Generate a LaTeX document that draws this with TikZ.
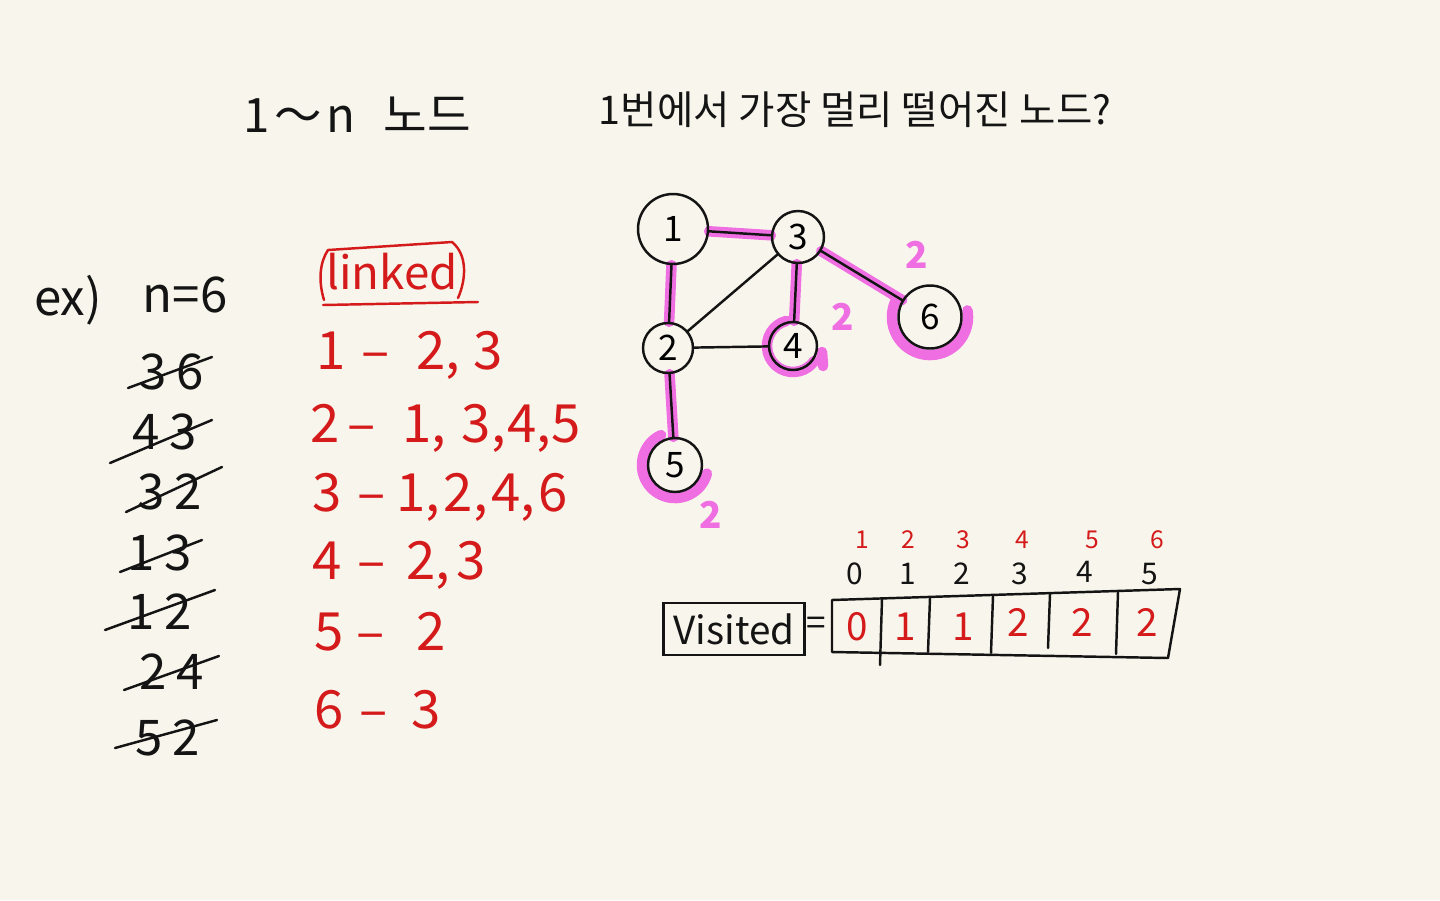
\documentclass[tikz,border=0pt]{standalone}
\usepackage{fontspec}
\setmainfont{Noto Sans CJK KR}
\usepackage{tikz}
\usetikzlibrary{positioning,calc,backgrounds}
\definecolor{paper}{HTML}{F8F6EC}
\definecolor{ink}{HTML}{141414}
\definecolor{redink}{HTML}{D41A1A}
\definecolor{pinkhl}{HTML}{EF6FE2}
\newcommand{\penfs}[1]{\fontsize{#1}{#1}\selectfont}
\newcommand{\gap}[1]{\hspace{#1em}}

\begin{document}
\begin{tikzpicture}[x=0.02cm,y=-0.02cm,
  pen/.style={ink,line width=1.4pt,line cap=round,line join=round},
  redpen/.style={redink,line width=1.4pt,line cap=round,line join=round},
  hl/.style={pinkhl,line width=6pt,line cap=round},
  vert/.style={circle,draw=ink,line width=1.4pt,inner sep=0pt,font=\penfs{20}},
  blk/.style={ink,inner sep=0pt,font=\penfs{28}},
  red/.style={redink,inner sep=0pt,font=\penfs{30}},
  two/.style={pinkhl,inner sep=0pt,font=\penfs{21}\bfseries}]
  % 종이
  \begin{scope}[on background layer]
    \fill[paper] (0,0) rectangle (1440,900);
  \end{scope}
  \useasboundingbox (0,0) rectangle (1440,900);

  % 제목
  \node[blk,font=\penfs{27}] (title) at (357,115) {1\gap{0.1}～\gap{0.1}n\gap{0.6}노드};
  \node[blk,font=\penfs{22.5}] (quest) at (855,110) {1번에서 가장 멀리 떨어진 노드?};

  % 입력
  \node[blk] (ex) at (68,300) {ex)};
  \node[blk] (nsix) at (185,295) {n=6};
  \node[blk] (e36) at (172,372) {3\gap{0.2}6};
  \node[blk] (e43) at (165,432) {4\gap{0.2}3};
  \node[blk] (e32) at (170,492) {3\gap{0.2}2};
  \node[blk] (e13) at (160,553) {1\gap{0.2}3};
  \node[blk] (e12) at (160,612) {1\gap{0.2}2};
  \node[blk] (e24) at (172,672) {2\gap{0.2}4};
  \node[blk] (e52) at (168,738) {5\gap{0.2}2};
  \draw[pen] (128,388) -- (212,357);
  \draw[pen] (110,463) -- (212,420);
  \draw[pen] (126,512) -- (222,467);
  \draw[pen] (120,572) -- (202,540);
  \draw[pen] (105,630) -- (215,590);
  \draw[pen] (124,690) -- (219,656);
  \draw[pen] (115,748) -- (217,720);

  % 인접 리스트
  \node[red,font=\penfs{26}] (linked) at (392,272) {linked};
  \draw[redpen] (324,300) .. controls (318,280) and (320,262) .. (328,250)
    -- (452,242) .. controls (468,255) and (466,280) .. (458,298);
  \draw[redpen] (323,305) -- (478,302);
  \node[red,anchor=west] (r1) at (316,355) {1\gap{0.3}–\gap{0.5}2,\gap{0.25}3};
  \node[red,anchor=west] (r2) at (310,428) {2\gap{0.15}–\gap{0.5}1,\gap{0.3}3,\gap{0.03}4,5};
  \node[red,anchor=west] (r3) at (312,497) {3\gap{0.3}–\gap{0.2}1,\gap{0.07}2,\gap{0.07}4,\gap{0.06}6};
  \node[red,anchor=west] (r4) at (312,565) {4\gap{0.3}–\gap{0.4}2,\gap{0.12}3};
  \node[red,anchor=west] (r5) at (314,632) {5\gap{0.25}–\gap{0.6}2};
  \node[red,anchor=west] (r6) at (314,710) {6\gap{0.3}–\gap{0.45}3};

  % 그래프
  \node[vert,minimum size=1.4cm] (n1) at (673,229) {1};
  \node[vert,minimum size=1.04cm] (n3) at (798,237) {3};
  \node[vert,minimum size=1cm] (n2) at (668,348) {2};
  \node[vert,minimum size=0.96cm] (n4) at (793,346) {4};
  \node[vert,minimum size=1.26cm] (n6) at (930,317) {6};
  \node[vert,minimum size=1.08cm] (n5) at (675,465) {5};

  % BFS 트리 표시
  \begin{scope}[on background layer]
    \draw[hl] (n1) -- (n3);
    \draw[hl] (n1) -- (n2);
    \draw[hl] (n3) -- (n4);
    \draw[hl] (n3) -- (n6);
    \draw[hl] (n2) -- (n5);
    \draw[hl] ($(n6)+(210:38)$) arc[start angle=210,end angle=-10,radius=38];
    \draw[hl] ($(n4)+(255:26)$) arc[start angle=255,end angle=35,radius=26];
    \draw[hl] ($(n4)+(29,6)$) -- ($(n4)+(30,20)$);
    \draw[hl] ($(n5)+(245:33)$) arc[start angle=245,end angle=15,radius=33];
  \end{scope}
  \draw[pen] (n1) -- (n3);
  \draw[pen] (n1) -- (n2);
  \draw[pen] (n2) -- (n3);
  \draw[pen] (n2) -- (n4);
  \draw[pen] (n3) -- (n4);
  \draw[pen] (n3) -- (n6);
  \draw[pen] (n2) -- (n5);
  \node[two] (d6) at (917,255) {2};
  \node[two] (d4) at (843,317) {2};
  \node[two] (d5) at (711,515) {2};

  % visited 배열
  \node[blk,draw=ink,line width=1.4pt,minimum width=2.82cm,minimum height=1.04cm,font=\penfs{22}] (vis) at (734,629) {Visited};
  \node[blk,font=\penfs{20}] (eq) at (816,626) {=};
  \draw[pen] (832,600) -- (1180,589) -- (1168,658) -- (832,652) -- cycle;
  \draw[pen] (882,599) -- (880,665);
  \draw[pen] (930,598) -- (928,652);
  \draw[pen] (993,596) -- (991,653);
  \draw[pen] (1050,594) -- (1048,648);
  \draw[pen] (1118,592) -- (1116,654);
  \node[red,font=\penfs{22}] (v1) at (857,627) {0};
  \node[red,font=\penfs{22}] (v2) at (905,627) {1};
  \node[red,font=\penfs{22}] (v3) at (963,627) {1};
  \node[red,font=\penfs{22}] (v4) at (1018,622) {2};
  \node[red,font=\penfs{22}] (v5) at (1082,622) {2};
  \node[red,font=\penfs{22}] (v6) at (1147,622) {2};
  \node[blk,font=\penfs{17}] (i0) at (855,574) {0};
  \node[blk,font=\penfs{17}] (i1) at (908,574) {1};
  \node[blk,font=\penfs{17}] (i2) at (962,574) {2};
  \node[blk,font=\penfs{17}] (i3) at (1020,574) {3};
  \node[blk,font=\penfs{17}] (i4) at (1085,572) {4};
  \node[blk,font=\penfs{17}] (i5) at (1150,574) {5};
  \node[red,font=\penfs{14}] (k1) at (862,540) {1};
  \node[red,font=\penfs{14}] (k2) at (908,540) {2};
  \node[red,font=\penfs{14}] (k3) at (963,540) {3};
  \node[red,font=\penfs{14}] (k4) at (1022,540) {4};
  \node[red,font=\penfs{14}] (k5) at (1092,540) {5};
  \node[red,font=\penfs{14}] (k6) at (1157,540) {6};
\end{tikzpicture}
\end{document}
